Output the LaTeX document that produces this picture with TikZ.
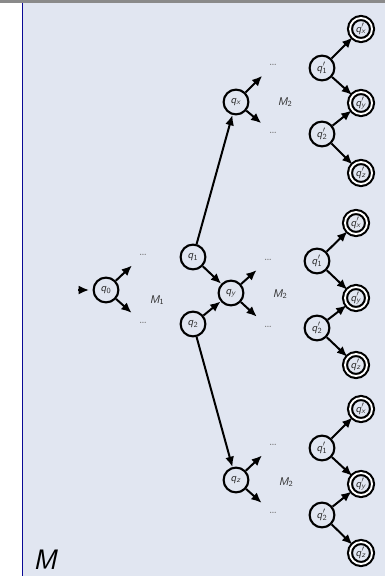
\documentclass[tikz,border=0pt]{standalone}
\usepackage{tikz}
\usetikzlibrary{arrows.meta}

\definecolor{slidebg}{RGB}{225,230,241}
\definecolor{framebar}{RGB}{138,138,138}
\definecolor{frameline}{RGB}{10,10,150}
\definecolor{labelgray}{RGB}{45,45,45}

\newcommand{\qn}[1]{\textit{q}\textsubscript{#1}}
\newcommand{\qd}[1]{\textit{q}\rlap{$'$}\textsubscript{#1}}

\begin{document}
\begin{tikzpicture}[x=0.3mm,y=-0.3mm,
  >={Latex[length=3.1mm,width=2.7mm]},
  state/.style={circle,draw=black,line width=1.8pt,minimum size=7.45mm,
    inner sep=0pt,font=\sffamily\fontsize{9.5}{11}\selectfont,text=labelgray},
  accept/.style={state,double=white,double distance=1.6pt,minimum size=6.6mm},
  dots/.style={circle,minimum size=9mm,inner sep=0pt,text=black!55,
    font=\fontsize{10}{12}\selectfont},
  machine/.style={font=\sffamily\itshape\fontsize{9.5}{11}\selectfont,text=labelgray},
  move/.style={->,line width=1.7pt}]

\useasboundingbox (0,0) rectangle (385,576);
\fill[framebar] (0,0) rectangle (385,3);
\fill[slidebg] (22,3) rectangle (385,576);
\draw[frameline,line width=0.8pt] (22,3) -- (22,576);

\node[font=\sffamily\itshape\fontsize{24}{28}\selectfont] (mname) at (45,560) {M};

% first machine
\coordinate (start) at (78,290);
\node[state] (q0) at (106,290) {\qn{0}};
\node[dots] (d0a) at (143,255) {\dots};
\node[dots] (d0b) at (143,323) {\dots};
\node[machine] (m1) at (157,300) {M\textsubscript{\textup{1}}};

\node[state] (q1) at (193,257) {\qn{1}};
\node[state] (q2) at (193,324) {\qn{2}};

% copies of the second machine
\node[state] (qx) at (236,102) {\qn{\textit{x}}};
\node[dots] (dxa) at (273,65) {\dots};
\node[dots] (dxb) at (273,133) {\dots};
\node[machine] (mx) at (285,102) {M\textsubscript{\textup{2}}};

\node[state] (qy) at (231,293) {\qn{\textit{y}}};
\node[dots] (dya) at (268,260) {\dots};
\node[dots] (dyb) at (268,327) {\dots};
\node[machine] (my) at (280,294) {M\textsubscript{\textup{2}}};

\node[state] (qz) at (236,480) {\qn{\textit{z}}};
\node[dots] (dza) at (273,445) {\dots};
\node[dots] (dzb) at (273,513) {\dots};
\node[machine] (mz) at (286,482) {M\textsubscript{\textup{2}}};

% final parts, top
\node[accept] (ax) at (361,29) {\qd{\textit{x}}};
\node[state] (a1) at (322,68) {\qd{1}};
\node[accept] (ay) at (361,103) {\qd{\textit{y}}};
\node[state] (a2) at (322,134) {\qd{2}};
\node[accept] (az) at (361,173) {\qd{\textit{z}}};

% final parts, middle
\node[accept] (bx) at (356,223) {\qd{\textit{x}}};
\node[state] (b1) at (317,261) {\qd{1}};
\node[accept] (by) at (356,298) {\qd{\textit{y}}};
\node[state] (b2) at (317,328) {\qd{2}};
\node[accept] (bz) at (356,365) {\qd{\textit{z}}};

% final parts, bottom
\node[accept] (cx) at (361,409) {\qd{\textit{x}}};
\node[state] (c1) at (322,448) {\qd{1}};
\node[accept] (cy) at (361,484) {\qd{\textit{y}}};
\node[state] (c2) at (322,515) {\qd{2}};
\node[accept] (cz) at (361,553) {\qd{\textit{z}}};

\draw[move,shorten >=3pt] (start) -- (q0);
\draw[move] (q0) -- (d0a);
\draw[move] (q0) -- (d0b);
\draw[move] (q1) -- (qx);
\draw[move] (q1) -- (qy);
\draw[move] (q2) -- (qy);
\draw[move] (q2) -- (qz);
\draw[move] (qx) -- (dxa);
\draw[move] (qx) -- (dxb);
\draw[move] (qy) -- (dya);
\draw[move] (qy) -- (dyb);
\draw[move] (qz) -- (dza);
\draw[move] (qz) -- (dzb);

\draw[move] (a1) -- (ax);
\draw[move] (a1) -- (ay);
\draw[move] (a2) -- (ay);
\draw[move] (a2) -- (az);
\draw[move] (b1) -- (bx);
\draw[move] (b1) -- (by);
\draw[move] (b2) -- (by);
\draw[move] (b2) -- (bz);
\draw[move] (c1) -- (cx);
\draw[move] (c1) -- (cy);
\draw[move] (c2) -- (cy);
\draw[move] (c2) -- (cz);
\end{tikzpicture}
\end{document}
